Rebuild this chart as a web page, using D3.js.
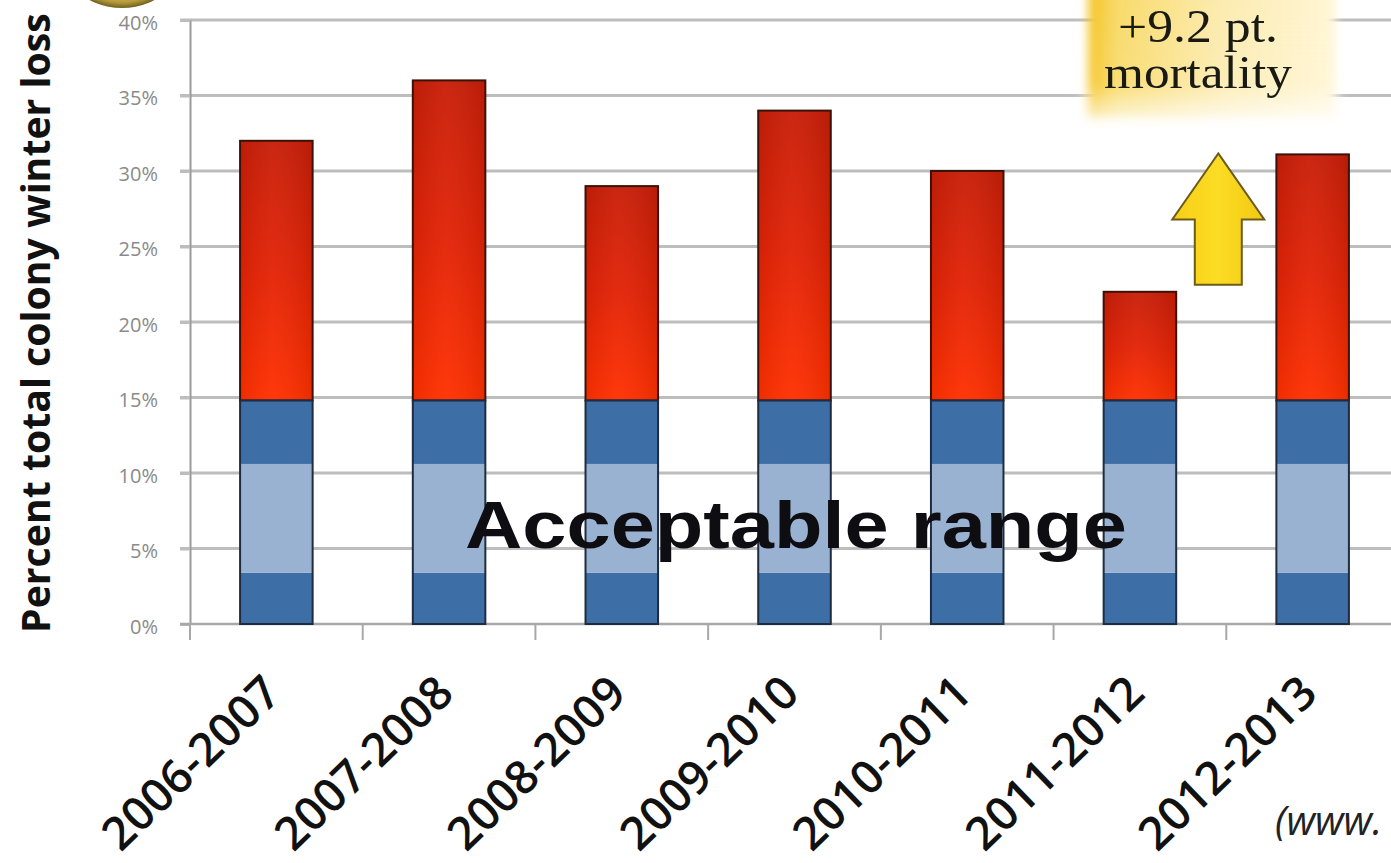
<!DOCTYPE html>
<html><head><meta charset="utf-8">
<script src="https://cdn.jsdelivr.net/npm/d3@7"></script>
<style>html,body{margin:0;padding:0;background:#fff;overflow:hidden}</style>
</head><body>
<svg id="chart" width="1391" height="863"></svg>
<script>
// ---- data ----
const seasons = ["2006-2007","2007-2008","2008-2009","2009-2010","2010-2011","2011-2012","2012-2013"];
const totalLoss = [32, 36, 29, 34, 30, 22, 31.1];
const acceptableBreaks = [0, 3.4, 10.6, 14.8];
const yTicks = [0, 5, 10, 15, 20, 25, 30, 35, 40];
const yAxisTitle = "Percent total colony winter loss";
const rangeLabel = "Acceptable range";
const calloutLines = ["+9.2 pt.", "mortality"];
const sourceNote = "(www.";

// ---- layout ----
const W = 1391, H = 863;
const svg = d3.select("#chart");
const defs = svg.append("defs");

const y = d3.scaleLinear().domain([0, 40]).range([624, 20]);
const x = d3.scaleBand().domain(seasons).range([190, 1399]).paddingInner(0.58).paddingOuter(0.29);

// gradients / filters
const redGrad = defs.append("linearGradient").attr("id","redGrad").attr("x1",0).attr("y1",0).attr("x2",0).attr("y2",1);
redGrad.append("stop").attr("offset","0%").attr("stop-color","#c81e08");
redGrad.append("stop").attr("offset","50%").attr("stop-color","#e22306");
redGrad.append("stop").attr("offset","100%").attr("stop-color","#ff3000");
const redSide = defs.append("linearGradient").attr("id","redSide").attr("x1",0).attr("y1",0).attr("x2",1).attr("y2",0);
redSide.append("stop").attr("offset","0%").attr("stop-color","#000").attr("stop-opacity",0.06);
redSide.append("stop").attr("offset","45%").attr("stop-color","#fff").attr("stop-opacity",0.04);
redSide.append("stop").attr("offset","100%").attr("stop-color","#000").attr("stop-opacity",0.08);

const boxGrad = defs.append("linearGradient").attr("id","boxGrad").attr("x1",0).attr("y1",0).attr("x2",1).attr("y2",0);
boxGrad.append("stop").attr("offset","0%").attr("stop-color","#f5c21a");
boxGrad.append("stop").attr("offset","12%").attr("stop-color","#f8da68");
boxGrad.append("stop").attr("offset","55%").attr("stop-color","#fcebb0");
boxGrad.append("stop").attr("offset","100%").attr("stop-color","#fff6d4");
const boxFade = defs.append("linearGradient").attr("id","boxFade").attr("x1",0).attr("y1",0).attr("x2",0).attr("y2",1);
boxFade.append("stop").attr("offset","0%").attr("stop-color","#fff").attr("stop-opacity",0);
boxFade.append("stop").attr("offset","70%").attr("stop-color","#fff").attr("stop-opacity",0.1);
boxFade.append("stop").attr("offset","100%").attr("stop-color","#fff").attr("stop-opacity",0.95);
defs.append("filter").attr("id","blur").attr("x","-20%").attr("y","-20%").attr("width","140%").attr("height","140%")
  .append("feGaussianBlur").attr("stdDeviation",5);

const arrowGrad = defs.append("linearGradient").attr("id","arrowGrad").attr("x1",0).attr("y1",0).attr("x2",1).attr("y2",0);
arrowGrad.append("stop").attr("offset","0%").attr("stop-color","#f6cf16");
arrowGrad.append("stop").attr("offset","50%").attr("stop-color","#fcdc24");
arrowGrad.append("stop").attr("offset","100%").attr("stop-color","#f2c812");

const orbGrad = defs.append("radialGradient").attr("id","orbGrad");
orbGrad.append("stop").attr("offset","70%").attr("stop-color","#e9dc9a");
orbGrad.append("stop").attr("offset","92%").attr("stop-color","#b59a3a");
orbGrad.append("stop").attr("offset","100%").attr("stop-color","#6f6122");

// decorative orb at top-left
svg.append("ellipse").attr("cx",122).attr("cy",-62).attr("rx",70).attr("ry",70).attr("fill","url(#orbGrad)");

// gridlines
svg.append("g").selectAll("line").data(yTicks.filter(d => d > 0)).join("line")
  .attr("x1",180).attr("x2",W).attr("y1",d => y(d)).attr("y2",d => y(d))
  .attr("stroke","#bdbdbd").attr("stroke-width",3);

// y axis
const yAxis = svg.append("g").attr("transform","translate(190,0)")
  .call(d3.axisLeft(y).tickValues(yTicks).tickFormat(d => d + "%").tickSize(10).tickSizeOuter(0).tickPadding(22));
yAxis.select(".domain").attr("stroke","#9a9a9a").attr("stroke-width",2);
yAxis.selectAll(".tick line").attr("stroke","#bdbdbd").attr("stroke-width",3);
yAxis.selectAll(".tick text").attr("fill","#8a8a8a").attr("font-family","'Open Sans', sans-serif")
  .attr("font-size",20).attr("dy","0.45em");

// bottom axis line + boundary ticks
svg.append("line").attr("x1",180).attr("x2",W).attr("y1",y(0)).attr("y2",y(0)).attr("stroke","#a8a8a8").attr("stroke-width",2.5);
const boundaries = d3.range(seasons.length + 1).map(i => x.range()[0] + i * x.step());
svg.append("g").selectAll("line").data(boundaries).join("line")
  .attr("x1",d => d).attr("x2",d => d).attr("y1",y(0)).attr("y2",y(0) + 16)
  .attr("stroke","#a8a8a8").attr("stroke-width",2);

// bars
const bars = svg.append("g").selectAll("g").data(seasons).join("g");
bars.append("rect")
  .attr("x",d => x(d)).attr("width",x.bandwidth())
  .attr("y",(d,i) => y(totalLoss[i])).attr("height",(d,i) => y(acceptableBreaks[3]) - y(totalLoss[i]))
  .attr("fill","url(#redGrad)").attr("stroke","#3a1208").attr("stroke-width",2);
bars.append("rect")
  .attr("x",d => x(d) + 1).attr("width",x.bandwidth() - 2)
  .attr("y",(d,i) => y(totalLoss[i]) + 1).attr("height",(d,i) => y(acceptableBreaks[3]) - y(totalLoss[i]) - 2)
  .attr("fill","url(#redSide)");
const blueCols = ["#3d6ea6","#9ab2d2","#3d6ea6"];
bars.each(function(d) {
  const g = d3.select(this);
  for (let k = 0; k < 3; k++) {
    g.append("rect")
      .attr("x",x(d)).attr("width",x.bandwidth())
      .attr("y",y(acceptableBreaks[k+1])).attr("height",y(acceptableBreaks[k]) - y(acceptableBreaks[k+1]))
      .attr("fill",blueCols[k]);
  }
  g.append("rect").attr("x",x(d)).attr("width",x.bandwidth())
    .attr("y",y(acceptableBreaks[3])).attr("height",y(0) - y(acceptableBreaks[3]))
    .attr("fill","none").attr("stroke","#1d2c40").attr("stroke-width",2);
});

// x labels
const fitSize = (txt, weight, family, target) => {
  const t = svg.append("text").attr("font-family",family).attr("font-weight",weight).attr("font-size",40).text(txt);
  const len = t.node().getComputedTextLength(); t.remove();
  return 40 * target / len;
};
const xFont = fitSize(seasons[0], 600, "'Open Sans', sans-serif", 226);
svg.append("g").selectAll("text").data(seasons).join("text")
  .attr("transform",d => `translate(${x(d) + x.bandwidth()/2 + 7},696) rotate(-44)`)
  .attr("text-anchor","end").attr("font-family","'Open Sans', sans-serif").attr("font-weight",600)
  .attr("font-size",xFont).attr("fill","#111").text(d => d);

// y axis title
const tFont = fitSize(yAxisTitle, 700, "'Open Sans', sans-serif", 620);
svg.append("text").attr("transform","translate(50,633) rotate(-90)")
  .attr("font-family","'Open Sans', sans-serif").attr("font-weight",700).attr("font-size",tFont)
  .attr("fill","#111").text(yAxisTitle);

// acceptable range label
svg.append("text").attr("x",465).attr("y",548)
  .attr("font-family","'Liberation Sans', Arial, sans-serif").attr("font-weight",700).attr("font-size",67)
  .attr("textLength",662).attr("lengthAdjust","spacingAndGlyphs")
  .attr("fill","#0d0d12").text(rangeLabel);

// callout box
const cb = svg.append("g");
cb.append("rect").attr("x",1088).attr("y",-20).attr("width",247).attr("height",140).attr("fill","url(#boxGrad)").attr("filter","url(#blur)");
cb.append("rect").attr("x",1080).attr("y",-20).attr("width",262).attr("height",150).attr("fill","url(#boxFade)").attr("filter","url(#blur)");
const calloutWidths = [160, 188];
cb.selectAll("text").data(calloutLines).join("text")
  .attr("x",1198).attr("y",(d,i) => 42 + i * 46).attr("text-anchor","middle")
  .attr("font-family","'Liberation Serif', 'Times New Roman', serif").attr("font-size",46)
  .attr("textLength",(d,i) => calloutWidths[i]).attr("lengthAdjust","spacingAndGlyphs")
  .attr("fill","#1a1a14").text(d => d);

// arrow showing increase from 2011-2012 to 2012-2013
const ax = (x(seasons[5]) + x.bandwidth() + x(seasons[6])) / 2 - 8;
const aBottom = y(totalLoss[5]) - 7, aTip = y(totalLoss[6]) - 1;
const headH = 66, headW = 46, shaftW = 23.5;
const arrowPts = [
  [ax, aTip], [ax + headW, aTip + headH], [ax + shaftW, aTip + headH], [ax + shaftW, aBottom],
  [ax - shaftW, aBottom], [ax - shaftW, aTip + headH], [ax - headW, aTip + headH]
];
svg.append("polygon").attr("points", arrowPts.map(p => p.join(",")).join(" "))
  .attr("fill","url(#arrowGrad)").attr("stroke","#6b5c1c").attr("stroke-width",2).attr("stroke-linejoin","miter");

// source note
svg.append("text").attr("x",1275).attr("y",835)
  .attr("font-family","'Open Sans', sans-serif").attr("font-style","italic").attr("font-size",40)
  .attr("fill","#222").text(sourceNote);
</script>
</body></html>
